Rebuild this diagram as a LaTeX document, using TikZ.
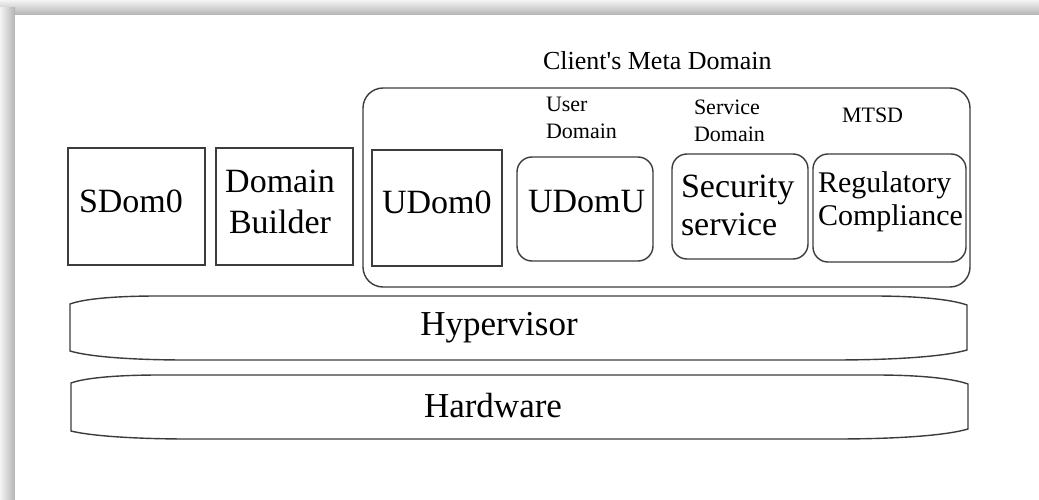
\documentclass[tikz,border=0pt]{standalone}
\usepackage{fontspec}
\setmainfont{Liberation Serif}[Ligatures=TeXOff]
\definecolor{linec}{HTML}{3C3C3C}
\begin{document}
\begin{tikzpicture}[x=1pt,y=-1pt,
  box/.style={draw=linec,line width=1.4pt,inner sep=0pt,outer sep=0pt},
  rbox/.style={box,rounded corners=15pt},
  layer/.style={draw=linec,line width=1.4pt},
  txt/.style={inner sep=0pt,outer sep=0pt,text=black},
  big/.style={txt,font=\fontsize{34}{38}\selectfont},
  mid/.style={txt,font=\fontsize{30}{33}\selectfont},
  small/.style={txt,font=\fontsize{22}{27.5}\selectfont},
  title/.style={txt,font=\fontsize{26}{30}\selectfont}]
\useasboundingbox (0,0) rectangle (1039,500);
% shadow frame
\fill[white] (0,0) rectangle (1039,500);
\shade[top color=gray!8,bottom color=gray!60] (0,0) rectangle (1039,15);
\shade[left color=gray!8,right color=gray!60] (0,8) rectangle (15,500);
\fill[white] (15,15) rectangle (1039,500);
% boxes
\node[box,minimum width=137pt,minimum height=117pt] (sdom) at (136.5,206.5) {};
\node[box,minimum width=137pt,minimum height=117pt] (db) at (284.5,206.5) {};
\node[box,rounded corners=20pt,minimum width=607pt,minimum height=199pt] (meta) at (666.5,187.5) {};
\node[box,minimum width=130pt,minimum height=116pt] (udom0) at (437,208) {};
\node[rbox,minimum width=136pt,minimum height=104pt] (udomu) at (585,209) {};
\node[rbox,minimum width=136pt,minimum height=105pt] (sec) at (740,206.5) {};
\node[rbox,minimum width=153pt,minimum height=108pt] (reg) at (889.5,208) {};
% layers
\draw[layer] (70,304) .. controls (85,298.5) and (118,296) .. (158,296) -- (873,296)
  .. controls (915,296) and (950,299) .. (967,305) -- (967,350)
  .. controls (945,356.5) and (895,360) .. (833,360) -- (186,360)
  .. controls (140,360) and (92,357.5) .. (70,351) -- cycle;
\draw[layer] (71,383) .. controls (86,377.5) and (120,375) .. (160,375) -- (875,375)
  .. controls (917,375) and (951,378) .. (968,384) -- (968,429)
  .. controls (946,435.5) and (897,439) .. (835,439) -- (188,439)
  .. controls (142,439) and (93,436.5) .. (71,431) -- cycle;
% texts (multi-line nodes: base = last line)
\node[title,anchor=base west] (metat) at (543,70) {Client's Meta Domain};
\node[small,anchor=base west,align=left] (udt) at (546,139) {User\\Domain};
\node[small,anchor=base west,align=left] (sdt) at (694,142) {Service\\Domain};
\node[small,anchor=base west] (mtsd) at (842,123) {MTSD};
\node[big,anchor=base west] (sdomt) at (79,212) {SDom0};
\node[big,anchor=base,align=center,font=\fontsize{34}{40}\selectfont] (dbt) at (280,233) {Domain\\Builder};
\node[big,anchor=base west] (udom0t) at (382,213) {UDom0};
\node[big,anchor=base west] (udomut) at (528,212) {UDomU};
\node[big,anchor=base west,align=left] (sect) at (681,235) {Security\\service};
\node[mid,anchor=base west,align=left] (regt) at (818,225.5) {Regulatory\\Compliance};
\node[big,anchor=base,font=\fontsize{35}{40}\selectfont] (hypt) at (499,335) {Hypervisor};
\node[big,anchor=base,font=\fontsize{35}{40}\selectfont] (hwt) at (493,417) {Hardware};
\end{tikzpicture}
\end{document}
